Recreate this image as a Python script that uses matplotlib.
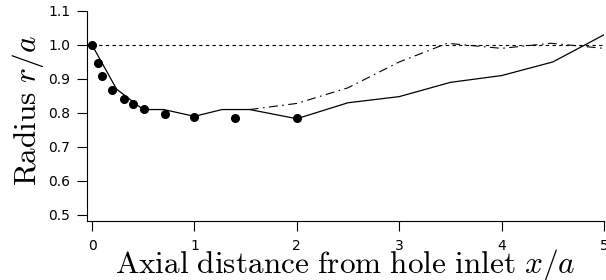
import matplotlib
matplotlib.use("Agg")
import matplotlib.pyplot as plt

plt.rcParams['mathtext.fontset'] = 'cm'
plt.rcParams['font.family'] = ['DejaVu Sans']

# solid line (simulation)
x_solid = [0.0, 0.24, 0.5, 0.7, 1.0, 1.27, 1.54, 2.0, 2.5, 3.0, 3.5, 4.0, 4.5, 5.0]
r_solid = [1.0, 0.87, 0.81, 0.81, 0.79, 0.81, 0.81, 0.783, 0.83, 0.848, 0.89, 0.91, 0.95, 1.03]

# dash-dot line (branch)
x_dashdot = [1.54, 2.0, 2.5, 3.0, 3.47, 4.0, 4.48, 5.0]
r_dashdot = [0.81, 0.828, 0.874, 0.95, 1.005, 0.99, 1.005, 0.99]

# reference line
x_ref = [0.0, 5.0]
r_ref = [1.0, 1.0]

# measured points
x_pts = [0.0, 0.055, 0.10, 0.20, 0.31, 0.40, 0.51, 0.71, 1.0, 1.40, 2.0]
r_pts = [1.0, 0.946, 0.91, 0.868, 0.842, 0.826, 0.812, 0.798, 0.788, 0.784, 0.784]

fig = plt.figure(figsize=(6.06, 2.8), dpi=100)
ax = fig.add_axes([87/606, 1 - 221/280, (604 - 87)/606, (221 - 11)/280])

ax.plot(x_ref, r_ref, color='black', lw=0.8, linestyle=(0, (3, 3)))
ax.plot(x_solid, r_solid, color='black', lw=0.9)
ax.plot(x_dashdot, r_dashdot, color='black', lw=0.8, linestyle=(0, (8, 4, 1.5, 4)))
ax.plot(x_pts, r_pts, 'o', color='black', markersize=5.5)

ax.set_xlim(-0.049, 5.0)
ax.set_ylim(0.482, 1.1)
ax.set_xticks([0, 1, 2, 3, 4, 5])
ax.set_yticks([0.5, 0.6, 0.7, 0.8, 0.9, 1.0, 1.1])
ax.set_yticklabels(['0.5', '0.6', '0.7', '0.8', '0.9', '1.0', '1.1'])
ax.spines['top'].set_visible(False)
ax.spines['right'].set_visible(False)
ax.tick_params(direction='out', length=7, width=0.8, labelsize=10, pad=5)
ax.tick_params(axis='x', pad=6)

# axis labels placed in figure pixels
fig.text(345/606, 1 - 273/280, r'$\mathrm{Axial\ distance\ from\ hole\ inlet}\ x/a$',
         fontsize=22.5, ha='center', va='baseline')
fig.text(28/606, 1 - 111/280, r'$\mathrm{Radius}\ r/a$',
         fontsize=22.5, ha='center', va='center', rotation=90)

fig.savefig('out.png', dpi=100)
